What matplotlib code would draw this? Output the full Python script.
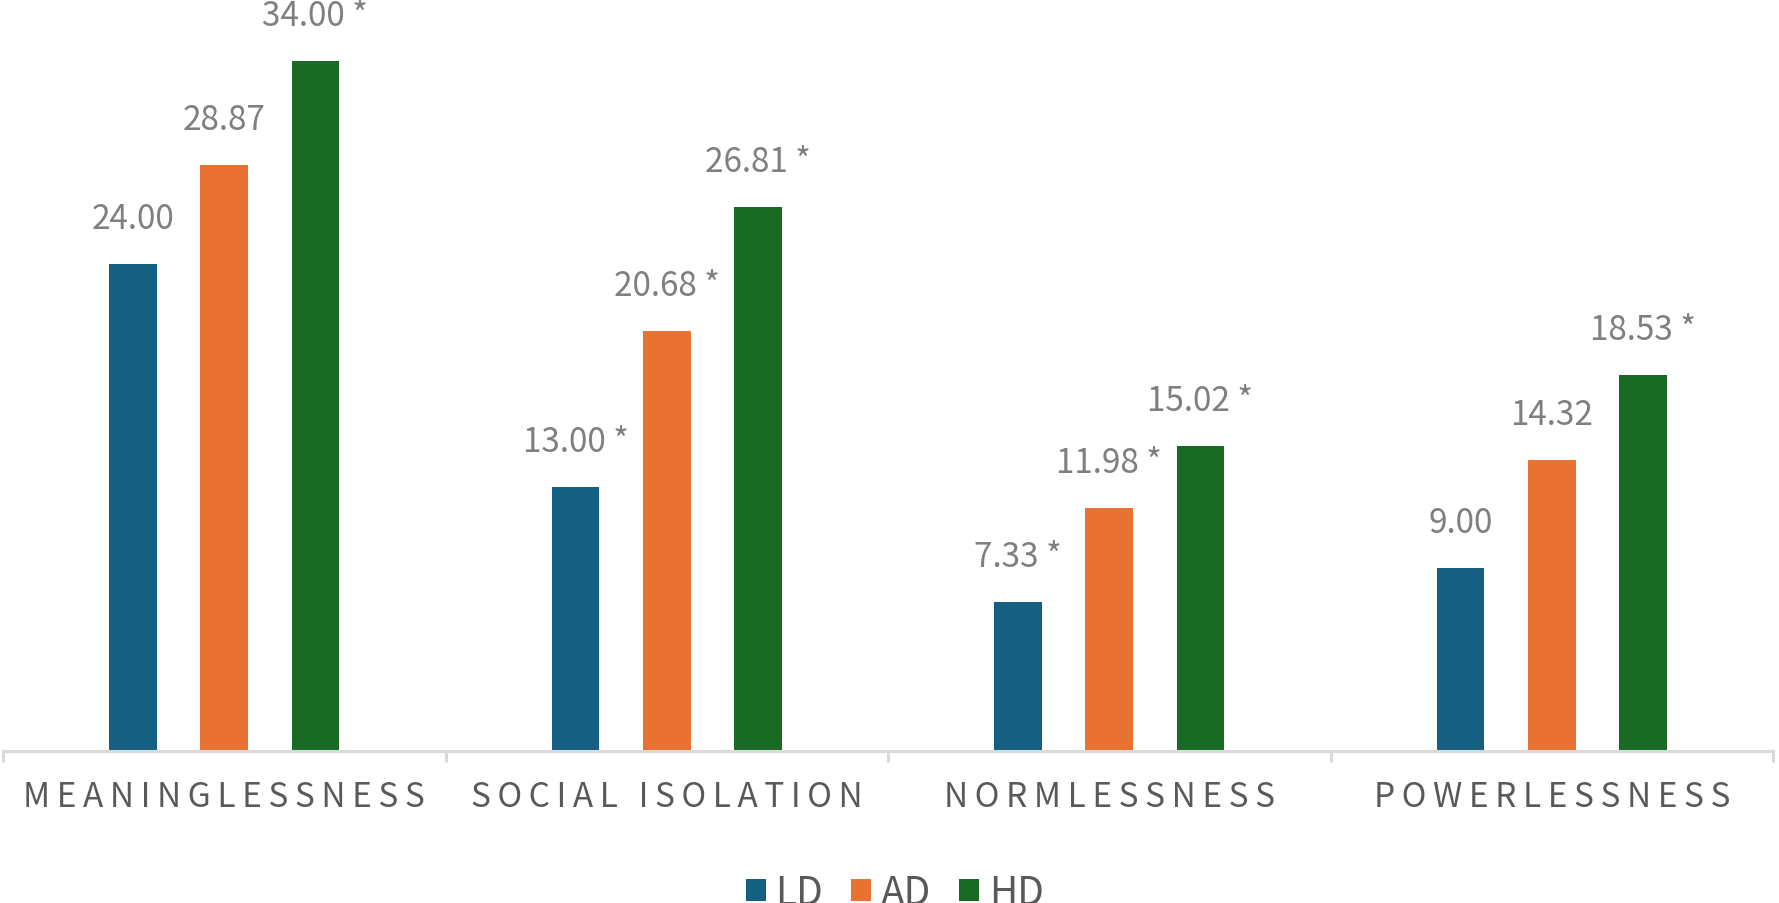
import matplotlib
matplotlib.use("Agg")
import matplotlib.pyplot as plt
from matplotlib.patches import Patch

categories = ["MEANINGLESSNESS", "SOCIAL ISOLATION", "NORMLESSNESS", "POWERLESSNESS"]
series_names = ["LD", "AD", "HD"]
ld_values = [24.00, 13.00, 7.33, 9.00]
ad_values = [28.87, 20.68, 11.98, 14.32]
hd_values = [34.00, 26.81, 15.02, 18.53]
ld_marks = ["", " *", " *", ""]
ad_marks = ["", " *", " *", ""]
hd_marks = [" *", " *", " *", " *"]

colors = ["#156082", "#e97132", "#196b24"]
label_grey = "#7f7f7f"
text_grey = "#595959"
axis_grey = "#d9d9d9"

plt.rcParams["font.family"] = ["Noto Sans CJK SC", "DejaVu Sans"]
plt.rcParams["font.weight"] = "light"

fig = plt.figure(figsize=(17.79, 9.04), dpi=100)
# axes: baseline at y=752 px from top, spans x 3..1773
ax = fig.add_axes([3 / 1779, 1 - 752 / 904, 1770 / 1779, 752 / 904])
ax.set_xlim(-0.5, 3.5)
ax.set_ylim(0, 752 / 20.3)

width = 0.108
offset = 0.206
all_values = [ld_values, ad_values, hd_values]
all_marks = [ld_marks, ad_marks, hd_marks]
for k, (vals, marks) in enumerate(zip(all_values, all_marks)):
    xs = [i + (k - 1) * offset for i in range(len(categories))]
    ax.bar(xs, vals, width=width, color=colors[k], label=series_names[k], zorder=2)
    for x, v, m in zip(xs, vals, marks):
        ax.annotate(f"{v:.2f}{m}", (x, v), xytext=(0, 28), textcoords="offset pixels",
                    ha="center", va="bottom", fontsize=24, color=label_grey)

for s in ["top", "right", "left"]:
    ax.spines[s].set_visible(False)
ax.spines["bottom"].set_color(axis_grey)
ax.spines["bottom"].set_linewidth(2.2)
ax.set_yticks([])
ax.set_xticks([])
ax.set_xticks([-0.5, 0.5, 1.5, 2.5, 3.5], minor=True)
ax.tick_params(axis="x", which="minor", length=8, width=2.2, color=axis_grey, labelbottom=False)

# category labels with wide letter spacing (thin spaces between letters)
for i, c in enumerate(categories):
    spaced = "\u2009".join(c)
    ax.text(i, -46 / 752, spaced, transform=ax.get_xaxis_transform(), ha="center", va="center",
            fontsize=24, color=text_grey)

handles = [Patch(facecolor=colors[k], label=series_names[k]) for k in range(3)]
fig.legend(handles=handles, loc="upper center", bbox_to_anchor=(0.503, 1 - 874 / 904), ncol=3,
           frameon=False, fontsize=28, handlelength=0.5, handleheight=0.5, handletextpad=0.26,
           columnspacing=0.72, labelcolor=text_grey, borderaxespad=0, borderpad=0)

fig.savefig("out.png", dpi=100)
